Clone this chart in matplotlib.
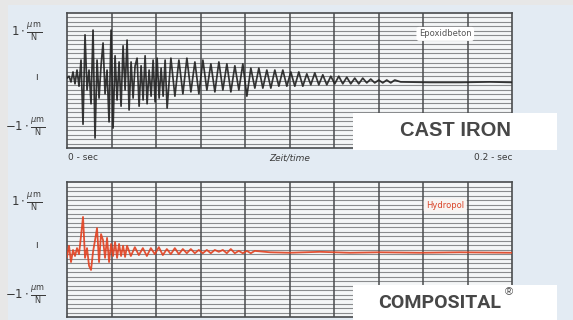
import numpy as np
import matplotlib
matplotlib.use("Agg")
import matplotlib.pyplot as plt
from matplotlib.patches import Rectangle

# ---- data (time in ms, response in um/N) ----
# cast iron / Epoxidbeton, three stretches of the trace
iron_t1 = np.linspace(0, 45, 51)
iron_v1 = [0.05, 0.09, -0.03, 0.18, -0.07, 0.22, -0.12, 0.43, -0.92, 0.96,
           -0.20, 0.22, -0.49, 1.06, -1.21, 0.43, -0.37, 0.31, 0.79, -0.28,
           0.22, -0.87, 1.06, -1.00, 0.52, -0.41, 0.39, -0.54, 0.73, -0.20,
           0.85, -0.62, 0.39, -0.37, 0.31, 0.47, -0.54, 0.31, -0.41, 0.52,
           -0.49, 0.22, -0.33, 0.43, -0.45, 0.47, -0.37, 0.26, -0.33, 0.43,
           -0.58]
iron_t2 = np.linspace(46.7, 147.3, 57)
iron_v2 = [0.47, -0.33, 0.43, -0.28, 0.47, -0.24, 0.39, -0.28, 0.43, -0.20,
           0.35, -0.24, 0.39, -0.20, 0.35, -0.24, 0.31, -0.20, 0.35, -0.33,
           0.26, -0.16, 0.26, -0.16, 0.22, -0.16, 0.22, -0.12, 0.22, -0.12,
           0.18, -0.12, 0.18, -0.12, 0.14, -0.09, 0.16, -0.09, 0.12, -0.09,
           0.09, -0.07, 0.09, -0.07, 0.07, -0.07, 0.05, -0.07, 0.05, -0.05,
           0.03, -0.05, 0.01, -0.05, 0.01, -0.05, 0.01]
iron_t3 = [150.0, 163.0, 177.0, 190.0, 200.0]
iron_v3 = [-0.03, -0.04, -0.04, -0.03, -0.04]

# compostal / Hydropol
comp_t1 = np.linspace(0, 27, 31)
comp_v1 = [-0.16, 0.08, -0.27, -0.01, -0.14, 0.03, -0.10, 0.29, 0.70, -0.18,
           0.03, -0.35, -0.44, -0.05, 0.20, 0.46, -0.27, 0.33, 0.20, -0.18,
           0.25, -0.27, 0.12, -0.14, 0.16, -0.18, 0.12, -0.14, 0.08, -0.16,
           0.08]
comp_t2 = np.linspace(28.7, 84.4, 32)
comp_v2 = [-0.14, 0.05, -0.12, 0.03, -0.14, 0.03, -0.10, 0.05, -0.12, 0.01,
           -0.10, 0.03, -0.10, 0.01, -0.08, 0.01, -0.08, -0.01, -0.08, -0.01,
           -0.08, -0.01, -0.05, -0.01, -0.08, 0.01, -0.08, -0.03, -0.08, -0.03,
           -0.08, -0.03]
comp_t3 = [91.2, 100.1, 113.6, 127.1, 140.5, 158.5, 176.5, 200.0]
comp_v3 = [-0.06, -0.07, -0.05, -0.07, -0.06, -0.07, -0.06, -0.07]

iron_t = np.concatenate([iron_t1, iron_t2, iron_t3])
iron_v = np.concatenate([iron_v1, iron_v2, iron_v3])
comp_t = np.concatenate([comp_t1, comp_t2, comp_t3])
comp_v = np.concatenate([comp_v1, comp_v2, comp_v3])

W, H = 573, 320
BG = "#e3ebf3"
fig = plt.figure(figsize=(W / 100, H / 100), dpi=100, facecolor=BG)

# grey strips of the scan
fig.add_artist(Rectangle((0, 1 - 5 / H), 1, 5 / H, transform=fig.transFigure,
                         facecolor="#e7e7e7", edgecolor="none", zorder=0))
fig.add_artist(Rectangle((0, 0), 8 / W, 1, transform=fig.transFigure,
                         facecolor="#e7e7e7", edgecolor="none", zorder=0))


def panel(top_px, ylim, t, v, color, lw):
    ax = fig.add_axes([67 / W, 1 - (top_px + 135) / H, 445 / W, 135 / H])
    ax.set_facecolor("#f4f6f7")
    ax.set_xlim(0, 200)
    ax.set_ylim(-ylim, ylim)
    for yy in np.linspace(-ylim, ylim, 31)[1:-1]:
        ax.axhline(yy, color="#8a8c8e", lw=0.8, zorder=1)
    for xx in range(20, 200, 20):
        ax.axvline(xx, color="#4a4c4e", lw=1.1, zorder=1)
    for s in ax.spines.values():
        s.set_color("#4a4c4e")
        s.set_linewidth(1.2)
    ax.set_xticks([])
    ax.set_yticks([])
    ax.plot(t, v, color=color, lw=lw, zorder=3, alpha=0.9)
    return ax


ax1 = panel(13, 1.42, iron_t, iron_v, "#202020", 1.25)
ax2 = panel(182, 1.45, comp_t, comp_v, "#e2401f", 1.3)

lab = dict(color="#3a3a3a", ha="center", va="center")
for cy_top, cy_mid, cy_bot in [(32, 77, 127), (202, 245, 295)]:
    fig.text(27 / W, 1 - cy_top / H, r"$1\cdot\frac{\mu\mathrm{m}}{\mathrm{N}}$",
             fontsize=8.5, **lab)
    fig.text(36 / W, 1 - cy_mid / H, "ı", fontsize=7, **lab)
    fig.text(25 / W, 1 - cy_bot / H, r"$-1\cdot\frac{\mu\mathrm{m}}{\mathrm{N}}$",
             fontsize=8.5, **lab)

fig.text(68 / W, 1 - 158 / H, "0 - sec", fontsize=6.5, color="#3a3a3a",
         ha="left", va="center")
fig.text(290 / W, 1 - 158 / H, "Zeit/time", fontsize=6.5, color="#3a3a3a",
         ha="center", va="center", style="italic")
fig.text(512 / W, 1 - 158 / H, "0.2 - sec", fontsize=6.5, color="#3a3a3a",
         ha="right", va="center")

ax1.text(170, 0.98, "Epoxidbeton", fontsize=6, color="#555555", ha="center",
         va="center", zorder=5,
         bbox=dict(boxstyle="round,pad=0.3", fc="white", ec="none"))
ax2.text(170, 0.95, "Hydropol", fontsize=6, color="#d9452a", ha="center",
         va="center", zorder=5,
         bbox=dict(boxstyle="round,pad=0.3", fc="#f8f4f2", ec="none"))

# white name plates
fig.add_artist(Rectangle((353 / W, 1 - 150 / H), 204 / W, 37 / H,
                         transform=fig.transFigure, facecolor="white",
                         edgecolor="none", zorder=10))
fig.text(455 / W, 1 - 131 / H, "CAST IRON", fontsize=14.5, fontweight="bold",
         color="#474747", ha="center", va="center", zorder=11,
         family=["Liberation Sans", "DejaVu Sans"])

fig.add_artist(Rectangle((353 / W, 0), 204 / W, 35 / H,
                         transform=fig.transFigure, facecolor="white",
                         edgecolor="none", zorder=10))
fig.text(501 / W, 1 - 303 / H, "COMPOSITAL", fontsize=14, fontweight="bold",
         color="#474747", ha="right", va="center",
         zorder=11, family=["Roboto", "DejaVu Sans"])
fig.text(505 / W, 1 - 292 / H, "®", fontsize=8, color="#474747",
         ha="left", va="center", zorder=11,
         family=["Liberation Sans", "DejaVu Sans"])

fig.savefig("out.png", dpi=100, facecolor=BG)
